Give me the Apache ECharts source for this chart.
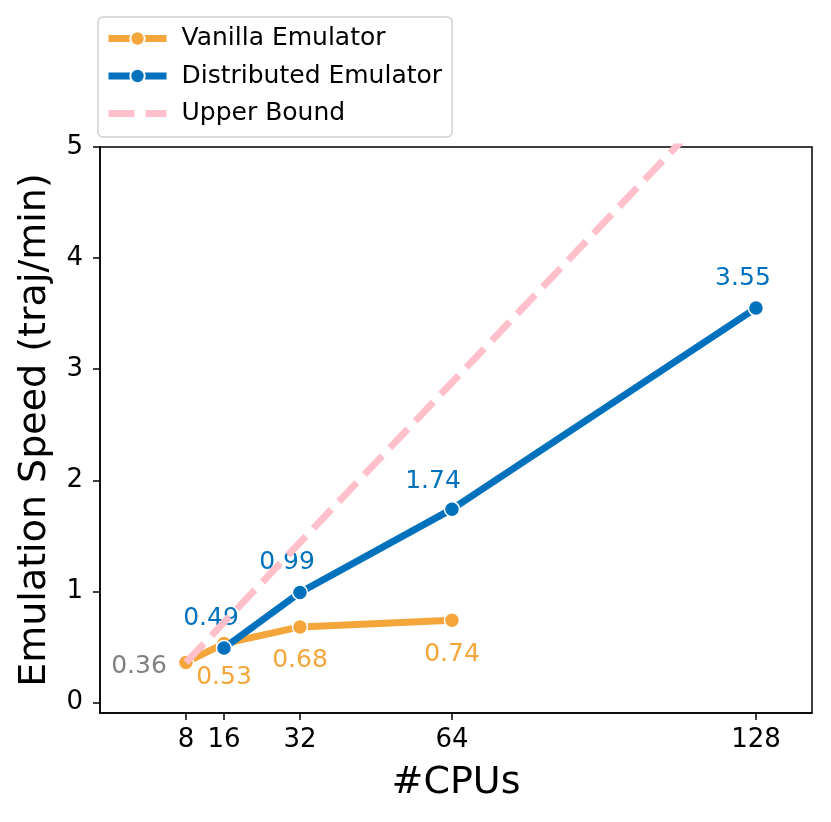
<!DOCTYPE html>
<html>
<head>
<meta charset="utf-8">
<script src="https://cdn.jsdelivr.net/npm/echarts@6/dist/echarts.min.js"></script>
<style>
  html, body { margin: 0; padding: 0; background: #fff; }
  #chart { width: 831px; height: 822px; }
</style>
</head>
<body>
<div id="chart"></div>
<script>
var cpuTicks = [8, 16, 32, 64, 128];
var yTicks = [0, 1, 2, 3, 4, 5];

var vanillaCpus = [8, 16, 32, 64];
var vanillaSpeed = [0.36, 0.53, 0.68, 0.74];

var distCpus = [16, 32, 64, 128];
var distSpeed = [0.49, 0.99, 1.74, 3.55];

// linear scaling from the 8-cpu vanilla run
var boundCpus = [8, 16, 32, 64, 128];
var boundSpeed = [0.36, 0.72, 1.44, 2.88, 5.76];

var ORANGE = '#f4a63a';
var BLUE = '#0071bc';
var PINK = '#ffc0cb';
var FONT = 'DejaVu Sans';

function pairs(xs, ys) {
  return xs.map(function (x, i) { return [x, ys[i]]; });
}

var vanillaData = pairs(vanillaCpus, vanillaSpeed).map(function (p, i) {
  var item = { value: p };
  if (i === 0) {
    item.label = { color: '#808080', offset: [-47, 4] };
  }
  return item;
});

var distData = pairs(distCpus, distSpeed).map(function (p, i) {
  var item = { value: p };
  if (p[0] === 64) {
    item.label = { offset: [-19, -28] };
  }
  return item;
});

var myChart = echarts.init(document.getElementById('chart'), null, { renderer: 'canvas' });

var option = {
  animation: false,
  textStyle: { fontFamily: FONT },
  grid: {
    left: 100,
    right: 19,
    top: 147,
    bottom: 109,
    show: true,
    borderColor: '#000',
    borderWidth: 1.5
  },
  legend: {
    orient: 'vertical',
    left: 98,
    top: 17,
    padding: [9, 10, 11, 7],
    itemWidth: 58,
    itemHeight: 18,
    itemGap: 12.5,
    backgroundColor: 'rgba(255,255,255,0.8)',
    borderColor: '#d0d0d0',
    borderWidth: 1.5,
    borderRadius: 5,
    lineStyle: { width: 7, type: 'inherit', cap: 'butt' },
    textStyle: {
      fontFamily: FONT,
      fontSize: 25,
      color: '#000',
      padding: [0, 0, 0, 10]
    },
    data: [
      'Vanilla Emulator',
      'Distributed Emulator',
      { name: 'Upper Bound', itemStyle: { opacity: 0 } }
    ]
  },
  xAxis: {
    type: 'value',
    min: -10.1,
    max: 139.8,
    name: '#CPUs',
    nameLocation: 'middle',
    nameGap: 51,
    nameTextStyle: { fontFamily: FONT, fontSize: 38, color: '#000' },
    axisLine: { show: true, onZero: false, lineStyle: { color: '#000', width: 1.5 } },
    axisTick: {
      show: true,
      length: 7,
      lineStyle: { color: '#000', width: 1.5 },
      customValues: cpuTicks
    },
    axisLabel: {
      fontFamily: FONT,
      fontSize: 26,
      color: '#000',
      margin: 14,
      customValues: cpuTicks
    },
    splitLine: { show: false }
  },
  yAxis: {
    type: 'value',
    min: -0.095,
    max: 5,
    name: 'Emulation Speed (traj/min)',
    nameLocation: 'middle',
    nameGap: 46,
    nameTextStyle: { fontFamily: FONT, fontSize: 38, color: '#000' },
    axisLine: { show: true, onZero: false, lineStyle: { color: '#000', width: 1.5 } },
    axisTick: {
      show: true,
      length: 7,
      lineStyle: { color: '#000', width: 1.5 },
      customValues: yTicks
    },
    axisLabel: {
      fontFamily: FONT,
      fontSize: 26,
      color: '#000',
      margin: 17,
      customValues: yTicks
    },
    splitLine: { show: false }
  },
  series: [
    {
      name: 'Vanilla Emulator',
      type: 'line',
      data: vanillaData,
      color: ORANGE,
      lineStyle: { width: 7, color: ORANGE },
      symbol: 'circle',
      symbolSize: 15,
      itemStyle: { color: ORANGE, borderColor: '#fff', borderWidth: 1.5 },
      label: {
        show: true,
        position: 'inside',
        offset: [0, 34],
        color: ORANGE,
        fontFamily: FONT,
        fontSize: 25,
        formatter: function (p) { return p.value[1].toFixed(2); }
      },
      z: 2
    },
    {
      name: 'Distributed Emulator',
      type: 'line',
      data: distData,
      color: BLUE,
      lineStyle: { width: 7, color: BLUE },
      symbol: 'circle',
      symbolSize: 15,
      itemStyle: { color: BLUE, borderColor: '#fff', borderWidth: 1.5 },
      label: {
        show: true,
        position: 'inside',
        offset: [-13, -30],
        color: BLUE,
        fontFamily: FONT,
        fontSize: 25,
        formatter: function (p) { return p.value[1].toFixed(2); }
      },
      z: 3
    },
    {
      name: 'Upper Bound',
      type: 'line',
      data: pairs(boundCpus, boundSpeed),
      color: PINK,
      showSymbol: false,
      symbol: 'none',
      lineStyle: { width: 7, color: PINK, type: [26, 11], cap: 'butt' },
      clip: true,
      z: 4
    }
  ]
};

myChart.setOption(option);
</script>
</body>
</html>
